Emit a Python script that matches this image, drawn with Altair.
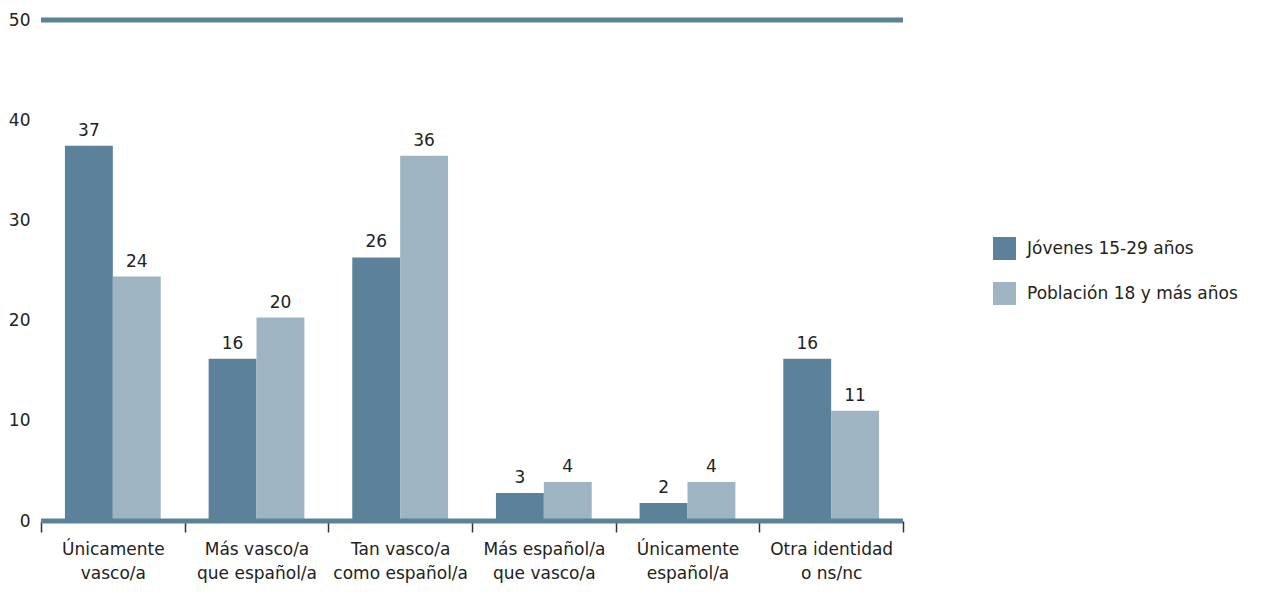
import altair as alt
import pandas as pd

categories = ["Únicamente|vasco/a", "Más vasco/a|que español/a", "Tan vasco/a|como español/a",
              "Más español/a|que vasco/a", "Únicamente|español/a", "Otra identidad|o ns/nc"]
series = ["Jóvenes 15-29 años", "Población 18 y más años"]
jovenes = [37.45, 16.2, 26.3, 2.8, 1.8, 16.2]
poblacion = [24.4, 20.3, 36.45, 3.9, 3.9, 11.0]
y_ticks = [0, 10, 20, 30, 40, 50]
ref_lines = [0, 50]

rows = []
for c, a, b in zip(categories, jovenes, poblacion):
    rows.append({"cat": c, "series": series[0], "value": a})
    rows.append({"cat": c, "series": series[1], "value": b})
df = pd.DataFrame(rows)
rules_df = pd.DataFrame({"v": ref_lines})

FONT = "DejaVu Sans"
FS = 17
DARK = "#5b819b"
LIGHT = "#9eb4c2"
TXT = "#222222"

x_enc = alt.X("cat:N", sort=categories,
              scale=alt.Scale(paddingInner=0, paddingOuter=0),
              axis=alt.Axis(title=None, labelAngle=0,
                            labelExpr="split(datum.label, '|')",
                            tickBand="extent", domain=False, ticks=True,
                            tickSize=11, tickColor="#333333", tickWidth=1.5,
                            labelPadding=9, labelFontSize=FS, labelLineHeight=24,
                            labelColor=TXT, labelFont=FONT, labelLimit=0))
xoff = alt.XOffset("series:N", sort=series,
                   scale=alt.Scale(paddingOuter=0.5, paddingInner=0))
y_enc = alt.Y("value:Q", scale=alt.Scale(domain=[0, 50], nice=False),
              axis=alt.Axis(title=None, values=y_ticks, grid=False, ticks=False,
                            domain=False, labelPadding=11, labelFontSize=FS,
                            labelColor=TXT, labelFont=FONT))

bars = alt.Chart(df).mark_bar().encode(
    x=x_enc, xOffset=xoff, y=y_enc,
    color=alt.Color("series:N", sort=series,
                    scale=alt.Scale(domain=series, range=[DARK, LIGHT]),
                    legend=alt.Legend(title=None, orient="none", legendX=952, legendY=217,
                                      symbolType="square", symbolSize=529,
                                      symbolStrokeWidth=0, labelFontSize=FS,
                                      labelFont=FONT, labelColor=TXT, labelLimit=0,
                                      labelOffset=11, rowPadding=22))
)

labels = alt.Chart(df).mark_text(baseline="bottom", dy=-6, fontSize=FS,
                                 font=FONT, color=TXT).encode(
    x=alt.X("cat:N", sort=categories), xOffset=xoff, y=alt.Y("value:Q"),
    text=alt.Text("value:Q", format=".0f")
)

rules = alt.Chart(rules_df).mark_rule(strokeWidth=5, color=DARK, strokeCap="butt").encode(
    y=alt.Y("v:Q")
)

chart = alt.layer(bars, rules, labels).properties(
    width=862, height=501,
    autosize=alt.AutoSizeParams(type="none"),
    padding={"left": 33, "top": 12, "right": 360, "bottom": 64}
).configure_view(stroke=None)

chart.save("out.html", embed_options={"renderer": "svg", "actions": False})
